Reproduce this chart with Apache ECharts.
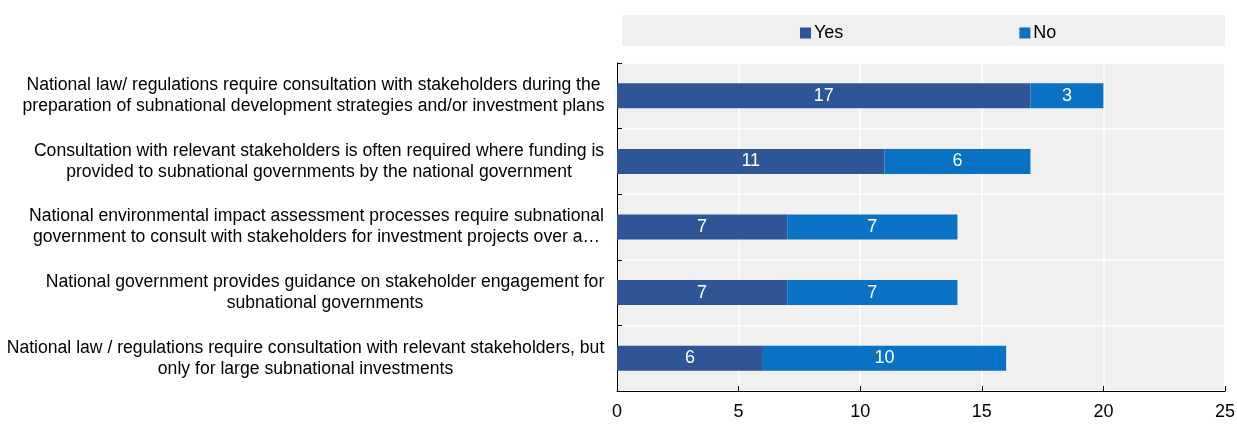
<!DOCTYPE html>
<html>
<head>
<meta charset="utf-8">
<script src="https://cdn.jsdelivr.net/npm/echarts@6/dist/echarts.min.js"></script>
<style>
  html, body { margin: 0; padding: 0; background: #ffffff; }
  #chart { width: 1237px; height: 425px; }
</style>
</head>
<body>
<div id="chart"></div>
<script>
// Survey responses: how national governments frame stakeholder consultation
const categories = [
  'National law/ regulations require consultation with stakeholders during the\npreparation of subnational development strategies and/or investment plans',
  'Consultation with relevant stakeholders is often required where funding is\nprovided to subnational governments by the national government',
  'National environmental impact assessment processes require subnational\ngovernment to consult with stakeholders for investment projects over a\u2026',
  'National government provides guidance on stakeholder engagement for\nsubnational governments',
  'National law / regulations require consultation with relevant stakeholders, but\nonly for large subnational investments'
];
const yesValues = [17, 11, 7, 7, 6];
const noValues = [3, 6, 7, 7, 10];
const seriesNames = ['Yes', 'No'];
const xTicks = [0, 5, 10, 15, 20, 25];

const FONT = '"Liberation Sans Narrow", "Arial Narrow", "Liberation Sans", Arial, sans-serif';
const FONT_SIZE = 18;
const CAT_FONT_SIZE = 17.6;

// Each label is a block whose lines are centred on its widest line
const measureCtx = document.createElement('canvas').getContext('2d');
measureCtx.font = CAT_FONT_SIZE + 'px ' + FONT;
const rich = {};
categories.forEach((c, i) => {
  const w = Math.max(...c.split('\n').map(l => measureCtx.measureText(l).width));
  rich['c' + i] = { width: Math.ceil(w) + 1, align: 'center', fontFamily: FONT, fontSize: CAT_FONT_SIZE, color: '#000', lineHeight: 21 };
});

const chart = echarts.init(document.getElementById('chart'), null, { renderer: 'canvas' });
chart.setOption({
  animation: false,
  graphic: [{
    type: 'rect',
    left: 622, top: 15,
    shape: { width: 603, height: 31 },
    style: { fill: '#f0f0f0' },
    z: -1
  }],
  legend: {
    data: seriesNames,
    top: 19,
    left: 795,
    itemGap: 176,
    itemWidth: 11,
    itemHeight: 11,
    icon: 'rect',
    textStyle: { fontFamily: FONT, fontSize: FONT_SIZE, color: '#000', padding: [0, 0, 0, -2] }
  },
  grid: {
    left: 617, right: 12, top: 63, bottom: 34,
    outerBoundsMode: 'none',
    containLabel: false,
    show: true, backgroundColor: '#f0f0f0', borderWidth: 0
  },
  xAxis: {
    type: 'value',
    min: xTicks[0], max: xTicks[xTicks.length - 1], interval: 5,
    axisLine: { show: true, lineStyle: { color: '#000', width: 1 } },
    axisTick: { show: true, inside: true, length: 5, lineStyle: { color: '#000' } },
    axisLabel: { fontFamily: FONT, fontSize: FONT_SIZE, color: '#000', margin: 12 },
    splitLine: { show: true, lineStyle: { color: '#ffffff', width: 1.5 } }
  },
  yAxis: {
    type: 'category',
    inverse: true,
    data: categories,
    axisLine: { show: true, lineStyle: { color: '#000', width: 1 } },
    axisTick: { show: true, inside: true, length: 5, lineStyle: { color: '#000' } },
    axisLabel: {
      margin: 12,
      formatter: (v, i) => '{c' + i + '|' + v + '}',
      rich: rich
    },
    splitLine: { show: true, lineStyle: { color: '#ffffff', width: 1.5 } }
  },
  series: [
    {
      name: seriesNames[0], type: 'bar', stack: 'total',
      data: yesValues, barWidth: 25,
      itemStyle: { color: '#2f5597' },
      label: { show: true, position: 'inside', color: '#fff', fontFamily: FONT, fontSize: FONT_SIZE }
    },
    {
      name: seriesNames[1], type: 'bar', stack: 'total',
      data: noValues, barWidth: 25,
      itemStyle: { color: '#0a72c4' },
      label: { show: true, position: 'inside', color: '#fff', fontFamily: FONT, fontSize: FONT_SIZE }
    }
  ]
});
</script>
</body>
</html>
